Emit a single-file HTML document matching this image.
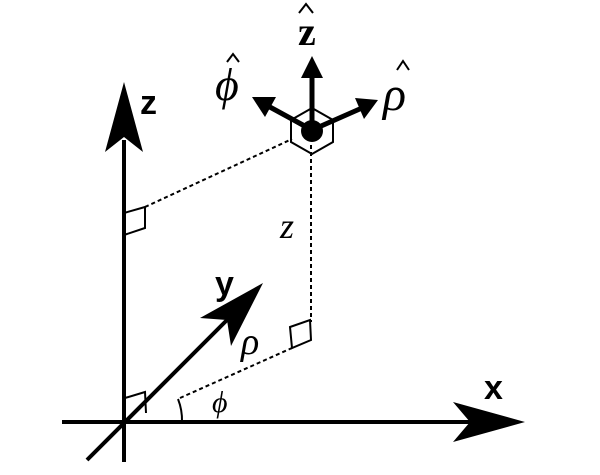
<!DOCTYPE html><html><head><style>body{margin:0;background:#fff}</style></head><body>
<svg width="600" height="470" viewBox="0 0 600 470" xmlns="http://www.w3.org/2000/svg">
<g stroke="#000" fill="none">
<line x1="124" y1="462" x2="124" y2="140" stroke-width="4"/>
<line x1="62" y1="422" x2="470" y2="422" stroke-width="4"/>
<line x1="87" y1="460" x2="232" y2="315" stroke-width="4"/>
<g stroke-dasharray="4,3" stroke-width="2">
<line x1="145" y1="207" x2="292" y2="139"/>
<line x1="311" y1="145" x2="311" y2="322"/>
<line x1="180" y1="398" x2="292" y2="348"/>
</g>
<g stroke-width="2">
<polygon points="124,213 145,207 145,228 124,235"/>
<polygon points="290,327 310,320 311,340 292,348"/>
<polyline points="125,398 145,392 146,413"/>
<path d="M178,399 A58,58 0 0 1 182,422"/>
<polygon points="312,108 333,120 333,142 312,154 291,142 291,120"/>
<line x1="291" y1="120" x2="312" y2="132" />
<line x1="333" y1="120" x2="312" y2="132" />
</g>
<g stroke-width="5">
<line x1="312" y1="130" x2="312" y2="72"/>
<line x1="312" y1="130" x2="268" y2="106"/>
<line x1="312" y1="130" x2="362" y2="108"/>
</g>
</g>
<circle cx="312" cy="131" r="11" fill="#000"/>
<g fill="#000">
<polygon points="124,82 143,152 124,137 105,152"/>
<polygon points="525,422 453,402 470,422 453,442"/>
<polygon points="263,283 200,318 227,320 231,346"/>
<polygon points="312,56 323,78 301,78"/>
<polygon points="252,97 276,97 265,117"/>
<polygon points="378,100 355,98 364,119"/>
</g>
<g font-family="Liberation Sans, sans-serif" font-weight="bold" font-size="34">
<text x="140" y="114">z</text>
<text x="215" y="295">y</text>
<text x="484" y="399">x</text>
</g>
<g font-family="Liberation Serif, serif" font-style="italic">
<text x="280" y="238" font-size="36">z</text>
<text x="241" y="354" font-size="38">ρ</text>
<text x="212" y="412" font-size="30">ϕ</text>
<text x="215" y="100" font-size="46">ϕ</text>
<text x="383" y="110" font-size="48">ρ</text>
</g>
<g stroke="#000" stroke-width="2" fill="none">
<polyline points="299,13 306,4 313,13"/>
<polyline points="227,62 233,54 239,62"/>
<polyline points="397,70 403,61 409,70"/>
</g>
<text x="298" y="45" font-family="Liberation Serif, serif" font-weight="bold" font-size="40">z</text>
</svg>
</body></html>
